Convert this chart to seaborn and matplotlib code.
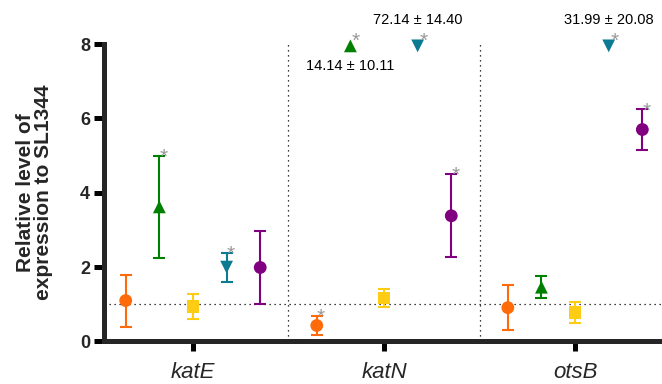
import numpy as np
import pandas as pd
import matplotlib
matplotlib.use("Agg")
import matplotlib.pyplot as plt
import seaborn as sns

# dados
genes = ["katE", "katN", "otsB"]
strains = ["strain_1", "strain_2", "strain_3", "strain_4", "strain_5"]

mean_1 = [1.10, 0.43, 0.91]
mean_2 = [3.62, 14.14, 1.46]
mean_3 = [0.95, 1.17, 0.78]
mean_4 = [2.00, 72.14, 31.99]
mean_5 = [1.99, 3.38, 5.70]

sd_1 = [0.70, 0.26, 0.60]
sd_2 = [1.37, 10.11, 0.29]
sd_3 = [0.34, 0.24, 0.28]
sd_4 = [0.39, 14.40, 20.08]
sd_5 = [0.98, 1.12, 0.54]

sig_1 = [False, True, False]
sig_2 = [True, True, False]
sig_3 = [False, False, False]
sig_4 = [True, True, True]
sig_5 = [False, True, True]

colors = {"strain_1": "#FF6A0A", "strain_2": "#008000", "strain_3": "#FFCC14",
          "strain_4": "#0C7A92", "strain_5": "#800080"}
markers = {"strain_1": "o", "strain_2": "^", "strain_3": "s",
           "strain_4": "v", "strain_5": "o"}

YMAX = 8
Y_CAP = 7.95
DODGE = 0.176

rows = []
for i, (m, s, g) in enumerate(zip([mean_1, mean_2, mean_3, mean_4, mean_5],
                                  [sd_1, sd_2, sd_3, sd_4, sd_5],
                                  [sig_1, sig_2, sig_3, sig_4, sig_5])):
    for j, gene in enumerate(genes):
        rows.append({"gene": gene, "strain": strains[i], "mean": m[j], "sd": s[j],
                     "sig": g[j], "xpos": j + (i - 2) * DODGE})
df = pd.DataFrame(rows)
df["y_plot"] = np.minimum(df["mean"], Y_CAP)
df["off"] = df["mean"] > YMAX

sns.set_style("ticks")
plt.rcParams["font.family"] = ["Liberation Sans", "DejaVu Sans"]

fig = plt.figure(figsize=(6.62, 3.84), dpi=100)
ax = fig.add_axes([0.157, 0.1107, 0.843, 0.7747])

# linhas de referência
ax.axhline(1, color="black", lw=0.9, ls=(0, (1, 3)), zorder=1)
for xs in [0.5, 1.5]:
    ax.plot([xs, xs], [0, YMAX], color="black", lw=0.9, ls=(0, (1, 3)), zorder=1)

# barras de erro
for _, r in df[~df["off"]].iterrows():
    ax.errorbar(r["xpos"], r["mean"], yerr=r["sd"], fmt="none", ecolor=colors[r["strain"]],
                elinewidth=1.5, capsize=4.3, capthick=1.5, zorder=2)

sns.scatterplot(data=df, x="xpos", y="y_plot", hue="strain", style="strain",
                palette=colors, markers=markers, s=85, linewidth=0, legend=False,
                ax=ax, zorder=3, clip_on=False)

# asteriscos
for _, r in df[df["sig"]].iterrows():
    if r["off"]:
        ax.annotate("*", (r["xpos"], r["y_plot"]), xytext=(4, -0.5), textcoords="offset points",
                    ha="center", va="baseline", fontsize=15, color="#999999",
                    annotation_clip=False)
    else:
        ax.annotate("*", (r["xpos"], r["mean"] + r["sd"]), xytext=(3, -5),
                    textcoords="offset points", ha="center", va="baseline",
                    fontsize=15, color="#999999", annotation_clip=False)

# valores fora da escala
for _, r in df[df["off"]].iterrows():
    txt = f"{r['mean']:.2f} \u00b1 {r['sd']:.2f}"
    dy = -14.5 if r["strain"] == "strain_2" else 18.5
    ax.annotate(txt, (r["xpos"], r["y_plot"]), xytext=(0, dy), textcoords="offset points",
                ha="center", va="center", fontsize=10.5, color="black", annotation_clip=False)

ax.set_xlim(-0.466, 2.455)
ax.set_ylim(0, YMAX)
ax.set_yticks([0, 2, 4, 6, 8])
ax.set_xticks(range(len(genes)))
ax.set_xticklabels(genes, fontstyle="italic", fontsize=16)
for lab in ax.get_yticklabels():
    lab.set_fontweight("bold")
    lab.set_fontsize(13)
ax.set_xlabel("")
ax.set_ylabel("Relative level of\nexpression to SL1344", fontsize=15, fontweight="bold",
              linespacing=0.9)
ax.yaxis.set_label_coords(-0.092, 0.5)

sns.despine(ax=ax)
for sp in ["left", "bottom"]:
    ax.spines[sp].set_linewidth(3.6)
ax.tick_params(axis="both", width=3.6, length=7, color="black")
ax.tick_params(axis="y", pad=3)
ax.tick_params(axis="x", pad=7.5)

fig.savefig("out.png", dpi=100)
